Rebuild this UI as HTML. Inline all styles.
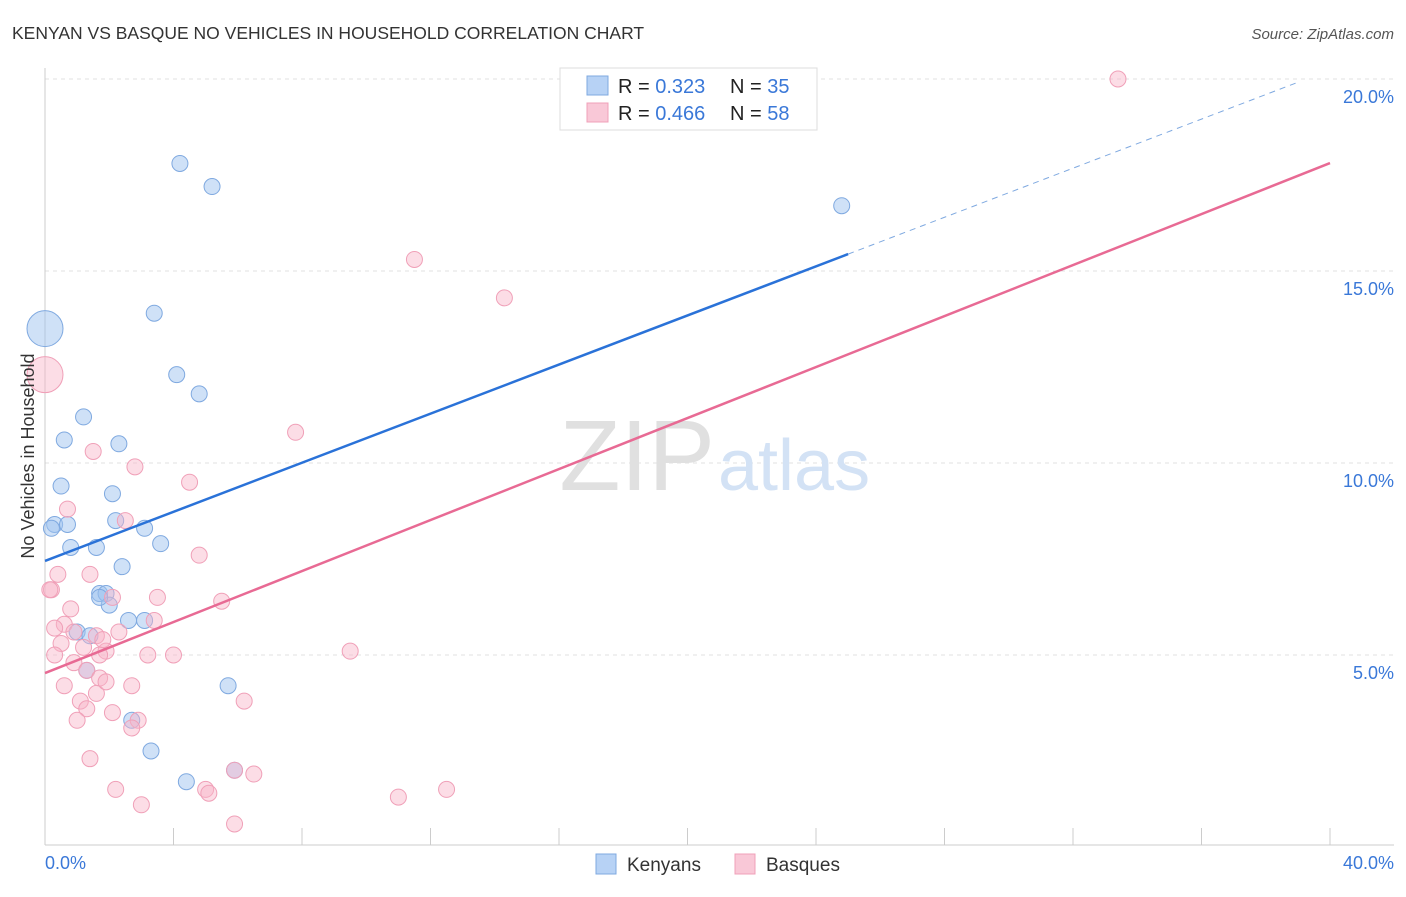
<!DOCTYPE html>
<html><head><meta charset="utf-8"><style>
body{margin:0;background:#fff;font-family:"Liberation Sans",sans-serif}
svg text{font-family:"Liberation Sans",sans-serif}
</style></head><body>
<svg id="chart" width="1406" height="892" xmlns="http://www.w3.org/2000/svg">
<text x="12" y="39" font-size="17.5" fill="#333">KENYAN VS BASQUE NO VEHICLES IN HOUSEHOLD CORRELATION CHART</text>
<text x="1394" y="39" font-size="15" fill="#555" font-style="italic" text-anchor="end">Source: ZipAtlas.com</text>
<g id="grid"></g>
<text x="715" y="490" font-size="100" font-family="Liberation Serif" fill="#e0e0e0" text-anchor="end">ZIP</text>
<text x="718" y="490" font-size="72" fill="#d3e2f5">atlas</text>
<g id="marks"></g>
<text transform="translate(34,456) rotate(-90)" font-size="18" fill="#333" text-anchor="middle">No Vehicles in Household</text>
<text x="45" y="869" font-size="18" fill="#3a78d8">0.0%</text>
<text x="1394" y="869" font-size="18" fill="#3a78d8" text-anchor="end">40.0%</text>
<g>
<rect x="560" y="68" width="257" height="62" fill="#fff" stroke="#ddd"/>
<rect x="587" y="76" width="21" height="19" fill="#b7d2f5" stroke="#7fa9e0"/>
<rect x="587" y="103" width="21" height="19" fill="#f9c8d7" stroke="#f0a0b8"/>
<text x="618" y="93" font-size="20" fill="#222">R = <tspan fill="#3a78d8">0.323</tspan><tspan x="730">N = </tspan><tspan fill="#3a78d8">35</tspan></text>
<text x="618" y="120" font-size="20" fill="#222">R = <tspan fill="#3a78d8">0.466</tspan><tspan x="730">N = </tspan><tspan fill="#3a78d8">58</tspan></text>
</g>
<g>
<rect x="596" y="854" width="20" height="20" fill="#b7d2f5" stroke="#7fa9e0"/>
<text x="627" y="871" font-size="19" fill="#333">Kenyans</text>
<rect x="735" y="854" width="20" height="20" fill="#f9c8d7" stroke="#f0a0b8"/>
<text x="766" y="871" font-size="19" fill="#333">Basques</text>
</g>
</svg>
<script>
const yTicks=[5,10,15,20];
const xTicks=[0,4,8,12,16,20,24,28,32,36,40];
const kenX=[4.2,5.2,24.8,3.4,0,4.1,4.8,1.2,0.6,2.3,0.5,2.1,0.3,0.7,2.2,0.2,3.1,3.6,0.8,1.6,2.4,1.7,1.9,2.0,2.6,3.1,1.0,1.4,1.3,5.7,2.7,3.3,4.4,5.9,1.7];
const kenY=[17.8,17.2,16.7,13.9,13.5,12.3,11.8,11.2,10.6,10.5,9.4,9.2,8.4,8.4,8.5,8.3,8.3,7.9,7.8,7.8,7.3,6.6,6.6,6.3,5.9,5.9,5.6,5.5,4.6,4.2,3.3,2.5,1.7,2.0,6.5];
const basX=[33.4,11.5,14.3,0,7.8,1.5,2.8,4.5,0.7,2.5,4.8,0.4,1.4,0.2,0.15,2.1,3.5,5.5,0.8,3.4,0.6,0.3,2.3,0.9,1.6,0.5,1.2,1.9,1.7,3.2,4.0,9.5,0.3,0.9,1.3,1.7,0.6,2.7,1.6,1.1,1.3,6.2,2.1,1.0,2.9,2.7,1.4,2.2,5.0,5.1,5.9,6.5,3.0,11.0,12.5,5.9,1.9,1.8];
const basY=[20.0,15.3,14.3,12.3,10.8,10.3,9.9,9.5,8.8,8.5,7.6,7.1,7.1,6.7,6.7,6.5,6.5,6.4,6.2,5.9,5.8,5.7,5.6,5.6,5.5,5.3,5.2,5.1,5.0,5.0,5.0,5.1,5.0,4.8,4.6,4.4,4.2,4.2,4.0,3.8,3.6,3.8,3.5,3.3,3.3,3.1,2.3,1.5,1.5,1.4,2.0,1.9,1.1,1.3,1.5,0.6,4.3,5.4];
const kenFit=[7.45,15.44], basFit=[4.53,17.81];
const sx=v=>45+v*32.125, sy=v=>847-v*38.4;
const NS='http://www.w3.org/2000/svg';
function mk(t,a,p){const e=document.createElementNS(NS,t);for(const k in a)e.setAttribute(k,a[k]);p.appendChild(e);return e;}
const g=document.getElementById('grid'), m=document.getElementById('marks');
yTicks.forEach(t=>{
 const l=mk('line',{x1:45,x2:1394,y1:sy(t),y2:sy(t),stroke:'#e2e2e2','stroke-dasharray':'4,4'},g);
 
 
 const tx=mk('text',{x:1394,y:sy(t)+24,'font-size':18,fill:'#3a78d8','text-anchor':'end'},g);
 tx.textContent=t.toFixed(1)+'%';
 
 
});
mk('line',{x1:45,x2:45,y1:68,y2:845,stroke:'#ccc'},g);
mk('line',{x1:45,x2:1394,y1:845,y2:845,stroke:'#ccc'},g);
xTicks.forEach(t=>{
 const l=mk('line',{x1:sx(t),x2:sx(t),y1:828,y2:845,stroke:'#ccc'},g);
 
 
});
function pts(xs,ys,fill,stroke,name){
 xs.forEach((x,i)=>{
  const big=(x===0);
  const c=mk('circle',{cx:sx(x),cy:sy(ys[i]),r:big?18:8,fill:fill,stroke:stroke,'stroke-width':1},m);
  
  
 });
}
pts(kenX,kenY,'rgba(160,196,240,0.5)','#7fa9e0','kenyan-point');
pts(basX,basY,'rgba(248,180,200,0.45)','#f0a0b8','basque-point');
const kb=kenFit[0], ks=(kenFit[1]-kenFit[0])/25;
const k1=mk('line',{x1:sx(0),y1:sy(kb),x2:sx(25),y2:sy(kb+ks*25),stroke:'#2a72d8','stroke-width':2.5},m);


const k2=mk('line',{x1:sx(25),y1:sy(kb+ks*25),x2:sx(39),y2:sy(kb+ks*39),stroke:'#7fa9e0','stroke-width':1,'stroke-dasharray':'6,5'},m);


const b1=mk('line',{x1:sx(0),y1:sy(basFit[0]),x2:sx(40),y2:sy(basFit[1]),stroke:'#e86a94','stroke-width':2.5},m);


</script>
</body></html>
